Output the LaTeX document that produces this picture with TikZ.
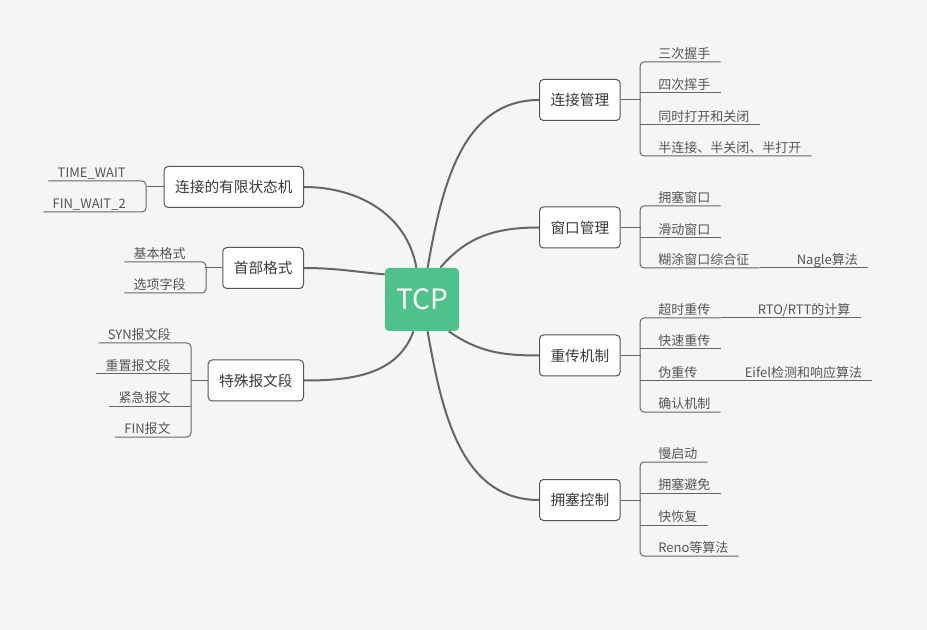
\documentclass[tikz,border=0pt]{standalone}
\usepackage{fontspec}
\setmainfont{Noto Sans CJK SC}
\usetikzlibrary{positioning}

\definecolor{paper}{HTML}{F5F5F5}
\definecolor{tcpgreen}{HTML}{4EC28A}
\definecolor{wire}{HTML}{666666}
\definecolor{boxline}{HTML}{555555}
\definecolor{boxtext}{HTML}{3A3A3A}
\definecolor{leaftext}{HTML}{555555}

\tikzset{
  root/.style={fill=tcpgreen, rounded corners=3pt, minimum width=55.5pt, minimum height=47.25pt,
    inner sep=0pt, text=white, font=\fontsize{21pt}{25pt}\selectfont},
  topic/.style={draw=boxline, line width=0.75pt, fill=white, rounded corners=3pt,
    minimum height=30.75pt, inner xsep=8.25pt, text=boxtext, font=\fontsize{11pt}{13pt}\selectfont},
  leaf/.style={inner sep=0pt, text depth=2.25pt, text height=8pt, text=leaftext,
    font=\fontsize{9.75pt}{12pt}\selectfont},
  rleaf/.style={leaf, anchor=south west},
  lleaf/.style={leaf, anchor=south east},
  limb/.style={draw=wire, line width=1.5pt},
  twig/.style={draw=wire, line width=0.75pt},
  brace/.style={twig, rounded corners=3pt},
}

\begin{document}
\begin{tikzpicture}[x=0.75pt, y=-0.75pt]
  \fill[paper] (0,0) rectangle (927,630);

  % Root
  \node[root] (tcp) at (422,299.5) {TCP};

  % Topics
  \node[topic, anchor=west] (conn) at (539,100) {连接管理};
  \node[topic, anchor=west] (win) at (539,227.5) {窗口管理};
  \node[topic, anchor=west] (retx) at (539,355.5) {重传机制};
  \node[topic, anchor=west] (cong) at (539,500) {拥塞控制};
  \node[topic, anchor=east] (fsm) at (304,187) {连接的有限状态机};
  \node[topic, anchor=east] (head) at (304,268) {首部格式};
  \node[topic, anchor=east] (spec) at (304,380.5) {特殊报文段};

  % Limbs
  \draw[limb] (tcp.80) to[out=80, in=180] (conn.west);
  \draw[limb] (tcp.60) to[out=50, in=180] (win.west);
  \draw[limb] (tcp.-50) to[out=-35, in=180] (retx.west);
  \draw[limb] (tcp.-80) to[out=-80, in=180] (cong.west);
  \draw[limb] (tcp.100) to[out=100, in=0] (fsm.east);
  \draw[limb] (tcp.146) to[out=175, in=0] (head.east);
  \draw[limb] (tcp.-105) to[out=-110, in=0] (spec.east);

  % Leaves of 连接管理
  \node[rleaf] (conn1) at (658,62) {三次握手};
  \node[rleaf] (conn2) at (658,93) {四次挥手};
  \node[rleaf] (conn3) at (658,125) {同时打开和关闭};
  \node[rleaf] (conn4) at (658,156) {半连接、半关闭、半打开};
  \draw[twig] (conn.east) -- ++(15pt,0);
  \draw[brace] ([xshift=7.5pt]conn1.south east) -- ([xshift=-13.5pt]conn1.south west)
    -- ([xshift=-13.5pt]conn4.south west) -- ([xshift=7.5pt]conn4.south east);
  \foreach \i in {2,3}
    \draw[twig] ([xshift=-13.5pt]conn\i.south west) -- ([xshift=7.5pt]conn\i.south east);

  % Leaves of 窗口管理
  \node[rleaf] (win1) at (658,206) {拥塞窗口};
  \node[rleaf] (win2) at (658,238) {滑动窗口};
  \node[rleaf] (win3) at (658,268) {糊涂窗口综合征};
  \node[leaf, base right=35.25pt of win3] (nagle) {Nagle算法};
  \draw[twig] (win.east) -- ++(15pt,0);
  \draw[brace] ([xshift=7.5pt]win1.south east) -- ([xshift=-13.5pt]win1.south west)
    -- ([xshift=-13.5pt]win3.south west) -- ([xshift=7.5pt]win3.south east);
  \draw[twig] ([xshift=-13.5pt]win2.south west) -- ([xshift=7.5pt]win2.south east);
  \draw[twig] ([xshift=7.5pt]win3.south east) -- ([xshift=7.5pt]nagle.south east);

  % Leaves of 重传机制
  \node[rleaf] (retx1) at (658,318) {超时重传};
  \node[rleaf] (retx2) at (658,349) {快速重传};
  \node[rleaf] (retx3) at (658,381) {伪重传};
  \node[rleaf] (retx4) at (658,412) {确认机制};
  \node[leaf, base right=35.25pt of retx1] (rto) {RTO/RTT的计算};
  \node[leaf, base right=35.25pt of retx3] (eifel) {Eifel检测和响应算法};
  \draw[twig] (retx.east) -- ++(15pt,0);
  \draw[brace] ([xshift=7.5pt]retx1.south east) -- ([xshift=-13.5pt]retx1.south west)
    -- ([xshift=-13.5pt]retx4.south west) -- ([xshift=7.5pt]retx4.south east);
  \foreach \i in {2,3}
    \draw[twig] ([xshift=-13.5pt]retx\i.south west) -- ([xshift=7.5pt]retx\i.south east);
  \draw[twig] ([xshift=7.5pt]retx1.south east) -- ([xshift=7.5pt]rto.south east);
  \draw[twig] ([xshift=7.5pt]retx3.south east) -- ([xshift=7.5pt]eifel.south east);

  % Leaves of 拥塞控制
  \node[rleaf] (cong1) at (658,462) {慢启动};
  \node[rleaf] (cong2) at (658,493) {拥塞避免};
  \node[rleaf] (cong3) at (658,525) {快恢复};
  \node[rleaf] (cong4) at (658,556) {Reno等算法};
  \draw[twig] (cong.east) -- ++(15pt,0);
  \draw[brace] ([xshift=7.5pt]cong1.south east) -- ([xshift=-13.5pt]cong1.south west)
    -- ([xshift=-13.5pt]cong4.south west) -- ([xshift=7.5pt]cong4.south east);
  \foreach \i in {2,3}
    \draw[twig] ([xshift=-13.5pt]cong\i.south west) -- ([xshift=7.5pt]cong\i.south east);

  % Leaves of 连接的有限状态机
  \node[lleaf] (fsm1) at (126,181) {TIME\_WAIT};
  \node[lleaf] (fsm2) at (126,212) {FIN\_WAIT\_2};
  \draw[twig] (fsm.west) -- ++(-12.75pt,0);
  \draw[brace] ([xshift=-6.75pt]fsm1.south west) -- ([xshift=15pt]fsm1.south east)
    -- ([xshift=15pt]fsm2.south east) -- ([xshift=-6.75pt]fsm2.south west);

  % Leaves of 首部格式
  \node[lleaf] (head1) at (186,262) {基本格式};
  \node[lleaf] (head2) at (186,293) {选项字段};
  \draw[twig] (head.west) -- ++(-12.75pt,0);
  \draw[brace] ([xshift=-6.75pt]head1.south west) -- ([xshift=15pt]head1.south east)
    -- ([xshift=15pt]head2.south east) -- ([xshift=-6.75pt]head2.south west);

  % Leaves of 特殊报文段
  \node[lleaf] (spec1) at (171,343) {SYN报文段};
  \node[lleaf] (spec2) at (171,374) {重置报文段};
  \node[lleaf] (spec3) at (171,406) {紧急报文};
  \node[lleaf] (spec4) at (171,437) {FIN报文};
  \draw[twig] (spec.west) -- ++(-12.75pt,0);
  \draw[brace] ([xshift=-6.75pt]spec1.south west) -- ([xshift=15pt]spec1.south east)
    -- ([xshift=15pt]spec4.south east) -- ([xshift=-6.75pt]spec4.south west);
  \foreach \i in {2,3}
    \draw[twig] ([xshift=-6.75pt]spec\i.south west) -- ([xshift=15pt]spec\i.south east);
\end{tikzpicture}
\end{document}
